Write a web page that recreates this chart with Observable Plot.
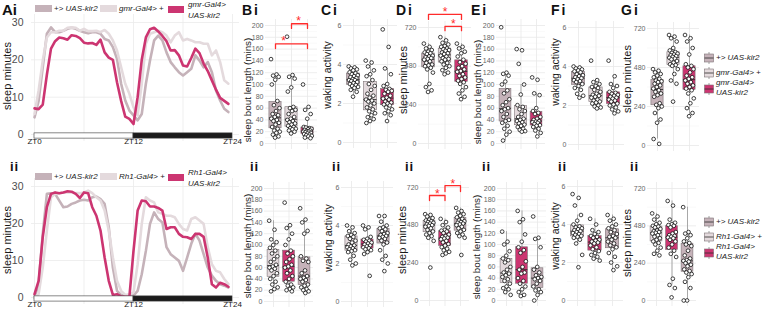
<!DOCTYPE html>
<html>
<head>
<meta charset="utf-8">
<script src="https://cdn.jsdelivr.net/npm/d3@7"></script>
<script src="https://cdn.jsdelivr.net/npm/@observablehq/plot@0.6"></script>
<style>
  body { margin: 0; background: #fff; }
  #fig { position: relative; width: 764px; height: 311px; overflow: hidden; background: #fff;
         font-family: "Liberation Sans", Arial, sans-serif; color: #1a1a1a; }
  .lab { position: absolute; font-weight: bold; color: #111; line-height: 1; white-space: nowrap; }
  .ytitle { position: absolute; white-space: nowrap; line-height: 1; transform: translate(-50%, -50%) rotate(-90deg); color: #1a1a1a; }
  .leg { position: absolute; font-size: 8px; color: #222; white-space: nowrap; line-height: 1; }
  .sw { position: absolute; }
  .key { position: absolute; }
  .key svg { display: block; }
</style>
</head>
<body>
<div id="fig"></div>
<script>
// ---- time axis (30-min bins, hours after lights on) ----
const zt = d3.range(48).map(i => i / 2);
const sleepTicksA = [0, 10, 20, 30];
const ztGrid = [0, 6, 12, 18, 24];
const ztLabels = [0, 12, 24];
const phaseFrom = [0, 12];
const phaseTo = [12, 24];
const phaseFill = ["#ffffff", "#1b1b1b"];

// ---- sleep profiles, minutes of sleep per 30 min ----
const sleepAi_uas = [4.6, 9, 18, 27, 28.7, 27.4, 27.4, 27.8, 28.3, 28.6, 28.3, 27.8, 27.4, 27.1, 27.4, 27.4, 27, 25.6, 25.2, 23.4, 20.3, 13.6, 9.1, 6.4, 5.1, 3.8, 5.5, 13.6, 19.8, 25.2, 26.5, 25.2, 22, 19.4, 18, 16.7, 15.8, 16.7, 17.6, 21.2, 19.8, 18, 19.4, 16.7, 11.8, 9.1, 6.9, 6];
const sleepAi_gmr = [5.5, 11.8, 19.8, 26, 27.4, 27.4, 27.8, 27.8, 28.6, 28.7, 28.6, 27.8, 28.3, 27.7, 27.7, 27.8, 27.4, 28, 27, 25.2, 22.5, 18, 13.6, 10.9, 7.3, 5.1, 13.6, 24.3, 27, 27.4, 27.8, 27.4, 26.5, 24.7, 26.5, 27.4, 25.2, 25.6, 25.2, 24.7, 24.7, 24.3, 24.3, 21.2, 22.5, 19.4, 14.5, 13.6];
const sleepAi_gmrKir = [7, 6.8, 8, 16, 23, 25, 26, 25.8, 25.4, 26.6, 26.4, 25.8, 24.6, 24.4, 24.5, 24, 25.4, 22, 20.6, 20, 14, 9, 4.8, 4.2, 2.8, 10, 20, 26, 28.2, 28.6, 27.6, 26.4, 25, 22.5, 22.6, 21.2, 18.5, 18.2, 20.5, 23, 21.8, 19, 17, 14.5, 12, 9.8, 9, 8.2];
const sleepAii_uas = [0, 3.6, 17.2, 28, 28.2, 28, 26.2, 24.4, 24.6, 25.3, 25.7, 26.2, 26.4, 26.2, 27.1, 27.3, 26.6, 25.3, 19, 8.1, 1.8, 0.7, 0.5, 0.5, 0.5, 1.8, 6.3, 12.6, 19.9, 23, 21.2, 20.3, 13.6, 11.7, 10.8, 9.9, 7.2, 10.8, 14.5, 17.2, 15.4, 11.7, 8.1, 5.9, 4.5, 3.6, 3.2, 2.7];
const sleepAii_rh1 = [0, 0.9, 8.1, 18.1, 27.1, 28, 28.2, 28.4, 28.4, 28.4, 28.2, 28.2, 28.4, 28.9, 28.2, 27.1, 26.2, 23.5, 18.1, 10.8, 4.5, 1.8, 0.7, 0.9, 1.4, 9, 19.9, 27.1, 26.2, 25.7, 23, 22.6, 22.1, 22.1, 21.7, 19.9, 18.5, 18.1, 21.2, 21.7, 20.8, 19.9, 13.6, 9, 7.2, 6.8, 5, 3.6];
const sleepAii_rh1Kir = [0.9, 4.5, 16.3, 24.4, 28, 28.4, 28.2, 28.4, 28.7, 28.6, 28, 26.9, 28.4, 28.2, 24.4, 22.1, 18.1, 10.8, 4.5, 0.7, 0.9, 0.3, 0.2, 0.2, 12.6, 23.5, 26.2, 26, 24.6, 24.6, 24.2, 23.5, 18.5, 19, 19, 17.2, 16.4, 16.3, 15.8, 17.2, 17.2, 16.4, 10.8, 3.6, 2.7, 4, 3.6, 2.9];

// ---- per-fly measures; row i groups: +>UAS-kir2, gmr-Gal4>+, gmr-Gal4>UAS-kir2 ----
const boutI = [
  [143, 117, 115, 113, 108, 100, 72, 65, 60, 55, 50, 48, 45, 42, 40, 38, 35, 32, 28, 25, 22, 20, 18, 15, 12, 10],
  [181, 116, 113, 110, 95, 88, 62, 60, 57, 55, 50, 45, 42, 40, 38, 36, 34, 32, 30, 28, 26, 25, 24, 22, 20, 17],
  [100, 62, 57, 50, 42, 28, 26, 27, 25, 24, 23, 22, 21, 20, 20, 19, 18, 17, 16, 15, 14, 13, 12, 10, 9]
];
const wakeI = [
  [3.9, 3.85, 3.8, 3.75, 3.7, 3.6, 3.55, 3.5, 3.45, 3.4, 3.35, 3.3, 3.25, 3.2, 3.2, 3.15, 3.1, 3.05, 3.0, 2.95, 2.9, 2.85, 2.8, 2.7, 2.6, 2.35],
  [4.2, 4.1, 3.9, 3.7, 3.5, 3.4, 3.2, 3.0, 2.9, 2.7, 2.5, 2.4, 2.3, 2.2, 2.15, 2.1, 2.0, 1.9, 1.8, 1.7, 1.6, 1.5, 1.4, 1.3, 1.2, 1.1, 1.0],
  [5.8, 4.9, 3.8, 3.5, 3.0, 2.9, 2.75, 2.7, 2.65, 2.6, 2.5, 2.4, 2.3, 2.25, 2.2, 2.1, 2.05, 2.0, 1.95, 1.9, 1.8, 1.7, 1.6, 1.5, 1.4, 1.1]
];
const dayI = [
  [620, 600, 590, 580, 570, 565, 560, 555, 545, 540, 535, 530, 525, 520, 510, 500, 490, 485, 480, 470, 460, 440, 370, 350, 330, 320],
  [660, 640, 625, 615, 605, 600, 590, 585, 580, 575, 565, 560, 555, 545, 540, 530, 525, 520, 510, 500, 490, 480, 470, 455, 440, 430],
  [620, 600, 590, 570, 560, 540, 520, 505, 495, 480, 470, 460, 450, 445, 430, 420, 410, 400, 390, 380, 370, 350, 330, 310, 290, 275]
];
const nightBoutI = [
  [197, 120, 118, 115, 105, 100, 90, 85, 75, 70, 65, 60, 58, 55, 50, 45, 40, 38, 35, 30, 25, 20, 15, 5],
  [160, 158, 135, 100, 83, 65, 62, 58, 55, 50, 45, 42, 40, 38, 36, 34, 32, 30, 28, 25, 23, 21, 20],
  [112, 108, 85, 82, 60, 55, 52, 50, 45, 42, 40, 38, 37, 36, 35, 33, 31, 30, 28, 25, 22, 18, 12]
];
const nightWakeI = [
  [4.0, 3.95, 3.9, 3.85, 3.8, 3.75, 3.7, 3.6, 3.55, 3.5, 3.45, 3.4, 3.35, 3.3, 3.25, 3.2, 3.1, 3.0, 2.9, 2.8, 2.6, 2.5, 2.4],
  [4.3, 3.3, 3.2, 3.1, 3.0, 2.95, 2.9, 2.8, 2.7, 2.6, 2.55, 2.5, 2.45, 2.4, 2.3, 2.25, 2.2, 2.15, 2.1, 2.0, 1.95, 1.9, 1.85],
  [4.3, 3.5, 3.1, 3.0, 2.9, 2.7, 2.65, 2.6, 2.55, 2.5, 2.45, 2.4, 2.35, 2.3, 2.25, 2.2, 2.1, 2.05, 2.0, 1.9, 1.8, 1.7, 1.6]
];
const nightI = [
  [470, 460, 450, 440, 430, 420, 410, 400, 395, 390, 380, 370, 360, 350, 340, 330, 320, 310, 300, 260, 250, 240, 230, 200, 160, 140, 40, 10],
  [680, 670, 660, 640, 600, 585, 575, 570, 565, 560, 555, 550, 545, 540, 535, 530, 520, 510, 500, 495, 490, 470, 440, 400, 380, 270],
  [680, 660, 640, 600, 560, 500, 490, 480, 470, 450, 430, 420, 410, 400, 390, 380, 370, 360, 350, 340, 320, 290, 260, 230, 200, 180]
];

// ---- row ii groups: Rh1-Gal4>+, Rh1-Gal4>UAS-kir2, +>UAS-kir2 ----
const boutII = [
  [143, 127, 110, 105, 100, 95, 90, 85, 80, 75, 70, 65, 62, 60, 58, 55, 50, 45, 40, 35, 30, 25, 22, 18],
  [175, 135, 130, 120, 110, 100, 90, 85, 80, 75, 70, 65, 62, 60, 55, 50, 45, 40, 35, 30, 28, 25, 22, 20, 18],
  [165, 145, 140, 125, 120, 80, 76, 72, 70, 55, 50, 45, 42, 40, 38, 35, 30, 28, 25, 22, 20, 18, 15]
];
const wakeII = [
  [4.0, 3.9, 3.7, 3.6, 3.5, 3.45, 3.4, 3.3, 3.2, 3.1, 3.0, 2.95, 2.9, 2.85, 2.8, 2.75, 2.7, 2.65, 2.6, 2.4, 2.2, 2.0, 1.9],
  [4.0, 3.9, 3.8, 3.4, 3.3, 3.25, 3.2, 3.15, 3.1, 3.05, 3.0, 2.95, 2.9, 2.85, 2.8, 2.75, 2.7, 2.6, 2.5, 1.35],
  [4.5, 4.5, 4.2, 4.0, 3.9, 3.85, 3.8, 3.7, 3.6, 3.55, 3.5, 3.45, 3.4, 3.35, 3.3, 3.2, 3.1, 3.0, 2.7, 2.4, 2.2, 2.0, 1.6]
];
const dayII = [
  [550, 545, 535, 525, 515, 510, 505, 500, 495, 490, 485, 480, 475, 470, 460, 450, 440, 430, 420, 410, 400, 380, 210],
  [520, 500, 480, 465, 450, 445, 440, 430, 420, 410, 405, 400, 395, 390, 380, 370, 360, 350, 340, 330, 320, 310, 300, 290],
  [590, 570, 560, 550, 540, 530, 520, 510, 505, 500, 495, 490, 485, 480, 470, 460, 450, 440, 430, 420, 410, 400, 290]
];
const nightBoutII = [
  [123, 105, 100, 88, 80, 75, 72, 68, 60, 55, 50, 48, 45, 42, 38, 35, 30, 25, 22, 20, 15, 10],
  [160, 145, 140, 118, 105, 95, 90, 85, 70, 60, 55, 50, 48, 40, 35, 30, 25, 20, 15, 10, 8],
  [150, 112, 110, 95, 60, 55, 50, 45, 42, 40, 38, 35, 30, 25, 20, 18, 15, 10, 0]
];
const nightWakeII = [
  [5.6, 5.4, 5.0, 4.5, 4.2, 4.0, 3.9, 3.85, 3.8, 3.75, 3.7, 3.65, 3.6, 3.55, 3.5, 3.45, 3.4, 3.35, 3.3, 3.2, 3.0, 2.4, 1.75],
  [4.3, 4.0, 3.7, 3.6, 3.5, 3.4, 3.35, 3.3, 3.2, 3.15, 3.1, 3.05, 3.0, 2.9, 2.8, 2.7, 2.6, 2.5, 2.4, 2.3, 2.2, 2.1],
  [4.5, 4.3, 4.2, 4.0, 3.9, 3.8, 3.7, 3.6, 3.5, 3.4, 3.35, 3.3, 3.2, 3.1, 3.0, 2.9, 2.8, 2.7, 2.5, 2.3, 2.0, 1.8, 1.6]
];
const nightII = [
  [560, 540, 520, 500, 490, 480, 475, 470, 460, 450, 445, 440, 435, 430, 420, 410, 400, 390, 380, 370, 360, 340, 320, 300, 290],
  [640, 610, 520, 500, 490, 485, 480, 470, 440, 430, 420, 415, 410, 405, 400, 390, 380, 360, 340, 320, 300, 280, 140, 100, 80, 20],
  [600, 440, 430, 420, 400, 380, 370, 360, 350, 320, 290, 270, 260, 255, 250, 240, 230, 220, 200, 190, 180, 170, 150, 120, 80, 0, 0]
];

// ---- axis ticks ----
const boutTicks = [0, 20, 40, 60, 80, 100, 120, 140, 160, 180, 200];
const wakeTicks = [0, 2, 4, 6];
const minuteTicks = [0, 240, 480, 720];

// ---- significance brackets: from group, to group, bracket top, bracket foot, star x, star y ----
const sigBi = [[1, 2], [3, 3], [169, 203], [161, 195], [1.5, 2.45], [178, 212]];
const sigDi = [[1, 2], [3, 3], [801, 727], [770, 700], [2, 2.5], [832, 758]];
const sigDii = [[1, 2], [2, 3], [669, 732], [637, 694], [1.5, 2.5], [694, 758]];

// ---- colours ----
const colUas = "#c5b2b9", colDrv = "#e4dadd", colKir = "#cc3571";
const rowIColors = [colUas, colDrv, colKir];
const rowIIColors = [colDrv, colKir, colUas];

const fig = document.getElementById("fig");
const baseStyle = {background: "transparent", overflow: "visible", fontFamily: "'Liberation Sans', Arial, sans-serif"};

function mount(svg, L, T) {
  svg.style.position = "absolute";
  svg.style.left = L + "px";
  svg.style.top = T + "px";
  fig.appendChild(svg);
}

// daily sleep profile with light/dark bar
function linePanel(series, yZero, yTop) {
  const x0 = 34, kx = 8.25, L = 31, R = 239;
  const ky = (yZero - yTop) / 30;
  const T = Math.round(yTop - 2.2 * ky), B = Math.round(yZero + 2 * ky);
  const rows = series.flatMap(([vals, color], s) => vals.map((v, i) => ({t: zt[i], v, s, color})));
  const phases = phaseFrom.map((f, i) => ({from: f, to: phaseTo[i], fill: phaseFill[i]}));
  const svg = Plot.plot({
    width: R - L, height: B - T, margin: 0,
    x: {domain: [(L - x0) / kx, (R - x0) / kx], axis: null},
    y: {domain: [-(B - yZero) / ky, 30 + (yTop - T) / ky], axis: null},
    color: {type: "identity"},
    style: baseStyle,
    marks: [
      Plot.ruleY(sleepTicksA, {y: d => d, stroke: "#ebebeb", strokeWidth: 0.8}),
      Plot.ruleX(ztGrid, {x: d => d, stroke: "#ebebeb", strokeWidth: 0.8}),
      Plot.line(rows, {x: "t", y: "v", z: "s", stroke: "color", strokeWidth: 2.6, strokeLinejoin: "round"}),
      Plot.rect(phases, {x1: "from", x2: "to", y1: -1.1, y2: 0.3, fill: "fill", stroke: "#3a3a3a", strokeWidth: 0.6}),
      Plot.text(sleepTicksA, {y: d => d, frameAnchor: "left", textAnchor: "end", dx: -8, text: d => String(d), fontSize: 10.5, fill: "#4d4d4d"}),
      Plot.text(ztLabels, {x: d => d, y: -1.1, text: d => "ZT" + d, lineAnchor: "top", fontSize: 8, fill: "#1a1a1a"})
    ]
  });
  mount(svg, L, T);
}

function summary(vals) {
  const s = vals.slice().sort(d3.ascending);
  const q1 = d3.quantileSorted(s, 0.25), med = d3.quantileSorted(s, 0.5), q3 = d3.quantileSorted(s, 0.75);
  const iqr = q3 - q1;
  const lo = d3.min(s.filter(v => v >= q1 - 1.5 * iqr));
  const hi = d3.max(s.filter(v => v <= q3 + 1.5 * iqr));
  return {q1, med, q3, lo, hi};
}

// horizontal spread of points inside each box
const jitter = i => (((i * 0.6180339887) % 1) - 0.5) * 0.56;

// box + jittered points; geom = [group1 px, group3 px, top-value px, zero px, top value]
function boxPanel(groups, colors, geom, ticks, sig) {
  const [c1, c3, yTop, yZero, vmax] = geom;
  const kx = (c3 - c1) / 2, ky = (yZero - yTop) / vmax;
  const L = Math.round(c1 - 0.6 * kx), R = Math.round(c3 + 0.6 * kx);
  const T = Math.round(yTop - 0.05 * vmax * ky), B = Math.round(yZero + 0.05 * vmax * ky);
  const pts = groups.flatMap((vals, gi) => vals.map((v, i) => ({g: gi + 1, v, j: jitter(i)})));
  const boxes = groups.map((vals, gi) => ({g: gi + 1, color: colors[gi], ...summary(vals)}));
  const minor = d3.pairs(ticks, (a, b) => (a + b) / 2);
  const hw = 0.38;
  const marks = [
    Plot.ruleY(minor, {y: d => d, stroke: "#f2f2f2", strokeWidth: 0.5}),
    Plot.ruleY(ticks, {y: d => d, stroke: "#e8e8e8", strokeWidth: 0.8}),
    Plot.ruleX(boxes, {x: "g", stroke: "#e8e8e8", strokeWidth: 0.8}),
    Plot.ruleX(boxes, {x: "g", y1: "lo", y2: "hi", stroke: "#8a8a8a", strokeWidth: 0.7}),
    Plot.rect(boxes, {x1: d => d.g - hw, x2: d => d.g + hw, y1: "q1", y2: "q3", fill: "color", stroke: "#7d7276", strokeWidth: 0.6}),
    Plot.ruleY(boxes, {y: "med", x1: d => d.g - hw, x2: d => d.g + hw, stroke: "#2b2b2b", strokeWidth: 0.9}),
    Plot.dot(pts, {x: d => d.g + d.j, y: "v", r: 1.85, fill: "white", stroke: "#111", strokeWidth: 0.8}),
    Plot.text(ticks, {y: d => d, frameAnchor: "left", textAnchor: "end", dx: -2, text: d => String(d), fontSize: 7, fill: "#666"})
  ];
  if (sig) {
    const [from, to, top, foot, sx, sy] = sig;
    const path = from.flatMap((f, i) => [
      {x: f, y: foot[i], k: i}, {x: f, y: top[i], k: i},
      {x: to[i], y: top[i], k: i}, {x: to[i], y: foot[i], k: i}
    ]);
    marks.push(Plot.line(path, {x: "x", y: "y", z: "k", stroke: "#ff2b2b", strokeWidth: 1.3}));
    marks.push(Plot.text(sx, {x: d => d, y: (d, i) => sy[i], text: () => "*", fill: "#ff2b2b", fontSize: 12, dy: 3}));
  }
  const svg = Plot.plot({
    width: R - L, height: B - T, margin: 0,
    x: {domain: [1 - (c1 - L) / kx, 3 + (R - c3) / kx], axis: null},
    y: {domain: [-(B - yZero) / ky, vmax + (yTop - T) / ky], axis: null},
    color: {type: "identity"},
    style: baseStyle,
    marks
  });
  mount(svg, L, T);
}

// ---- A: sleep profiles ----
linePanel([[sleepAi_uas, colUas], [sleepAi_gmr, colDrv], [sleepAi_gmrKir, colKir]], 134, 22);
linePanel([[sleepAii_uas, colUas], [sleepAii_rh1, colDrv], [sleepAii_rh1Kir, colKir]], 297, 186);

// ---- B–G, row i ----
boxPanel(boutI, rowIColors, [275, 307, 25, 143, 200], boutTicks, sigBi);
boxPanel(wakeI, rowIColors, [353, 387, 25, 142, 6], wakeTicks);
boxPanel(dayI, rowIColors, [428, 461, 27, 143, 720], minuteTicks, sigDi);
boxPanel(nightBoutI, rowIColors, [505, 536, 25, 143, 200], boutTicks);
boxPanel(nightWakeI, rowIColors, [578, 613, 27, 144, 6], wakeTicks);
boxPanel(nightI, rowIColors, [657, 689, 28, 145, 720], minuteTicks);

// ---- B–G, row ii ----
boxPanel(boutII, rowIIColors, [273, 304, 188, 301, 200], boutTicks);
boxPanel(wakeII, rowIIColors, [351, 383, 187, 301, 6], wakeTicks);
boxPanel(dayII, rowIIColors, [429, 460, 187, 300, 720], minuteTicks, sigDii);
boxPanel(nightBoutII, rowIIColors, [506, 537, 188, 300, 200], boutTicks);
boxPanel(nightWakeII, rowIIColors, [577, 612, 186, 300, 6], wakeTicks);
boxPanel(nightII, rowIIColors, [656, 687, 188, 300, 720], minuteTicks);

// ---- text: panel letters, axis titles, legends ----
function addDiv(cls, style, html) {
  const d = document.createElement("div");
  d.className = cls;
  d.setAttribute("style", style);
  d.innerHTML = html;
  fig.appendChild(d);
}
const panelLetters = [
  ["Ai", 2, 2, 15, 0], ["Bi", 242, 3, 14, 2], ["Ci", 321, 3, 14, 2], ["Di", 396, 3, 14, 2],
  ["Ei", 471, 3, 14, 2], ["Fi", 551, 3, 14, 2], ["Gi", 621, 3, 14, 2],
  ["ii", 10, 160, 13, 1], ["ii", 250, 160, 13, 1], ["ii", 332, 160, 13, 1], ["ii", 405, 160, 13, 1],
  ["ii", 482, 160, 13, 1], ["ii", 558, 160, 13, 1], ["ii", 630, 160, 13, 1]
];
panelLetters.forEach(([t, x, y, fs, ls]) =>
  addDiv("lab", `left:${x}px;top:${y}px;font-size:${fs}px;letter-spacing:${ls}px`, t));

const yTitles = [
  ["sleep minutes", 7, 76, 11], ["sleep minutes", 7, 240, 11],
  ["sleep bout length (mins)", 248, 90, 9.8], ["sleep bout length (mins)", 248, 246, 9.8],
  ["waking activity", 327, 75, 10.5], ["waking activity", 328, 238, 10.5],
  ["sleep minutes", 403, 80, 11], ["sleep minutes", 402, 240, 11],
  ["sleep bout length (mins)", 478, 92, 9.8], ["sleep bout length (mins)", 477, 247, 9.8],
  ["waking activity", 555, 72, 10.5], ["waking activity", 555, 236, 10.5],
  ["sleep minutes", 627, 79, 11], ["sleep minutes", 627, 243, 11]
];
yTitles.forEach(([t, x, y, fs]) => addDiv("ytitle", `left:${x}px;top:${y}px;font-size:${fs}px`, t));

// line legends above the profiles
function lineLegend(top, driver) {
  addDiv("sw", `left:35px;top:${top}px;width:17px;height:7px;background:${colUas}`, "");
  addDiv("leg", `left:54px;top:${top}px`, "+&gt; <i>UAS-kir2</i>");
  addDiv("sw", `left:100px;top:${top}px;width:17px;height:7px;background:${colDrv}`, "");
  addDiv("leg", `left:119px;top:${top}px`, `<i>${driver}</i>&gt; +`);
  addDiv("sw", `left:168px;top:${top + 1}px;width:16px;height:7px;background:${colKir}`, "");
  addDiv("leg", `left:188px;top:${top - 4}px;font-style:italic`, `${driver}&gt;`);
  addDiv("leg", `left:188px;top:${top + 7}px;font-style:italic`, "UAS-kir2");
}
lineLegend(5, "gmr-Gal4");
lineLegend(173, "Rh1-Gal4");

// box legends at the right
function keySvg(fill) {
  return `<svg width="10" height="12"><line x1="5" y1="0" x2="5" y2="12" stroke="#8a8a8a" stroke-width="0.8"/>` +
    `<rect x="0.5" y="2" width="9" height="8" fill="${fill}" stroke="#7d7276" stroke-width="0.6"/>` +
    `<line x1="0.5" x2="9.5" y1="6" y2="6" stroke="#2b2b2b" stroke-width="0.8"/></svg>`;
}
function boxLegend(y0, driver) {
  addDiv("key", `left:704px;top:${y0 - 6}px`, keySvg(colUas));
  addDiv("leg", `left:716px;top:${y0 - 4}px;font-style:italic`, "+&gt; UAS-kir2");
  addDiv("key", `left:704px;top:${y0 + 9}px`, keySvg(colDrv));
  addDiv("leg", `left:716px;top:${y0 + 11}px;font-style:italic`, `${driver}&gt; +`);
  addDiv("key", `left:704px;top:${y0 + 25}px`, keySvg(colKir));
  addDiv("leg", `left:716px;top:${y0 + 21}px;font-style:italic`, `${driver}&gt;`);
  addDiv("leg", `left:716px;top:${y0 + 31}px;font-style:italic`, "UAS-kir2");
}
boxLegend(58, "gmr-Gal4");
boxLegend(222, "Rh1-Gal4");
</script>
</body>
</html>
